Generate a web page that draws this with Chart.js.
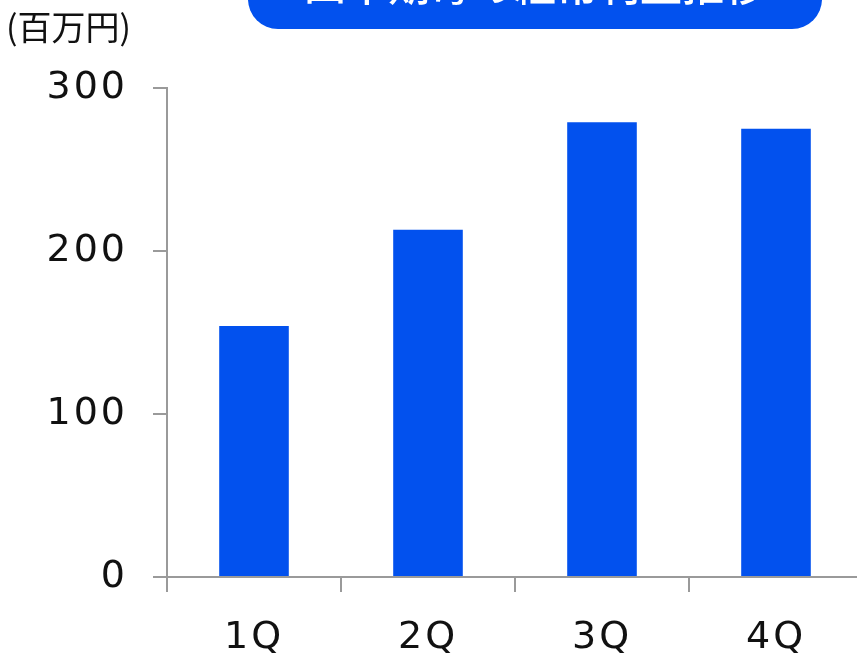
<!DOCTYPE html>
<html>
<head>
<meta charset="utf-8">
<script src="https://cdn.jsdelivr.net/npm/chart.js@4/dist/chart.umd.min.js"></script>
<style>
  html, body { margin: 0; padding: 0; background: #fff; overflow: hidden; width: 857px; height: 660px; }
  #wrap { width: 863px; height: 660px; position: relative; }
</style>
</head>
<body>
<div id="wrap"><canvas id="c" width="863" height="660"></canvas></div>
<script>
// Quarterly ordinary profit (millions of yen)
const quarters = ['1Q', '2Q', '3Q', '4Q'];
const profit = [154, 213, 279, 275];
const yTicks = [0, 100, 200, 300];
const unitLabel = '(百万円)';
const headline = '四半期毎の経常利益推移';

const BLUE = '#0251EE';
const AXIS = '#9a9a9a';
const NUM_FONT = 'DejaVu Sans';

// Wider tracking for the numeric axis labels
const tracking = {
  id: 'tracking',
  beforeDraw(chart) { chart.ctx.letterSpacing = '3px'; }
};

// Rounded headline banner plus the unit label above the value axis
const decorations = {
  id: 'decorations',
  afterDraw(chart) {
    const ctx = chart.ctx;
    ctx.save();
    ctx.letterSpacing = '0px';
    ctx.fillStyle = BLUE;
    ctx.beginPath();
    ctx.roundRect(248, -45, 574, 74, 30);
    ctx.fill();
    ctx.fillStyle = '#fff';
    ctx.font = '500 42px "Noto Sans CJK JP"';
    ctx.textAlign = 'center';
    ctx.textBaseline = 'alphabetic';
    ctx.fillText(headline, 535, 1);
    ctx.fillStyle = '#111';
    ctx.font = '34px "Noto Sans CJK JP"';
    ctx.textAlign = 'left';
    ctx.textBaseline = 'middle';
    ctx.fillText(unitLabel, 6, 27);
    ctx.restore();
  }
};

new Chart(document.getElementById('c'), {
  type: 'bar',
  data: {
    labels: quarters,
    datasets: [{
      data: profit,
      backgroundColor: BLUE,
      borderWidth: 0,
      categoryPercentage: 1.0,
      barPercentage: 0.4
    }]
  },
  options: {
    responsive: false,
    animation: false,
    events: [],
    layout: { padding: { top: 88, left: 0, right: 0, bottom: 0 } },
    plugins: { legend: { display: false }, tooltip: { enabled: false }, title: { display: false } },
    scales: {
      x: {
        afterFit(scale) { scale.height = 83; },
        grid: {
          offset: true,
          drawOnChartArea: false,
          drawTicks: true,
          tickLength: 15,
          color: AXIS,
          lineWidth: 2
        },
        border: { display: true, color: AXIS, width: 2 },
        ticks: {
          color: '#111',
          padding: 23,
          font: { family: NUM_FONT, size: 38 }
        }
      },
      y: {
        min: 0,
        max: 300,
        afterFit(scale) { scale.width = 167; },
        afterBuildTicks(scale) { scale.ticks = yTicks.map(v => ({ value: v })); },
        grid: {
          drawOnChartArea: false,
          drawTicks: true,
          tickLength: 14,
          color: AXIS,
          lineWidth: 2
        },
        border: { display: true, color: AXIS, width: 2 },
        ticks: {
          color: '#111',
          padding: 25,
          font: { family: NUM_FONT, size: 38 }
        }
      }
    }
  },
  plugins: [tracking, decorations]
});
</script>
</body>
</html>
